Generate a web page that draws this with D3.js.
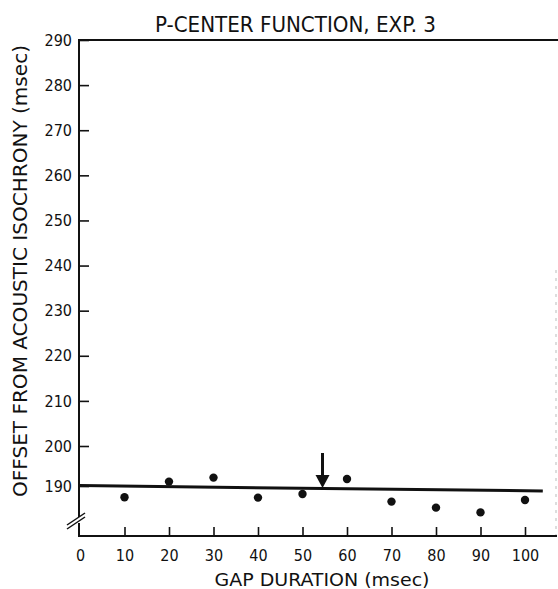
<!DOCTYPE html>
<html><head><meta charset="utf-8">
<script src="https://cdn.jsdelivr.net/npm/d3@7"></script>
<style>
body{margin:0;background:#fff;}
svg{display:block;}
text{font-family:"DejaVu Sans Condensed","DejaVu Sans",sans-serif;fill:#111;}
</style></head>
<body>
<svg id="c" width="558" height="589"></svg>
<script>
const gapDurations = [10, 20, 30, 40, 50, 60, 70, 80, 90, 100];
const offsets = [187.2, 191.1, 192.1, 187.1, 188.0, 191.75, 186.1, 184.6, 183.4, 186.5];
const fitLine = [{x: 0, y: 190.1}, {x: 104, y: 188.75}];
const arrow = {x: 54.5, yTop: 198.25, yTip: 189.5};
const xTicks = [0, 10, 20, 30, 40, 50, 60, 70, 80, 90, 100];
const yTicks = [190, 200, 210, 220, 230, 240, 250, 260, 270, 280, 290];
const title = "P-CENTER FUNCTION, EXP. 3";
const xTitle = "GAP DURATION (msec)";
const yTitle = "OFFSET FROM ACOUSTIC ISOCHRONY (msec)";

const svg = d3.select("#c");
const x = d3.scaleLinear().domain([0, 100]).range([80, 525]);
const y = d3.scaleLinear().domain([190, 200, 290]).range([486, 446, 40]);
const axisX = 79, axisY = 536;
const font = '"DejaVu Sans Condensed","DejaVu Sans",sans-serif';

// Top frame line
svg.append("line").attr("x1", axisX).attr("x2", 558).attr("y1", y(290)).attr("y2", y(290))
  .attr("stroke", "#111").attr("stroke-width", 2);
// faint right edge (scan)
svg.append("line").attr("x1", 556).attr("x2", 556).attr("y1", 270).attr("y2", axisY)
  .attr("stroke", "#bbb").attr("stroke-width", 1).attr("stroke-dasharray", "3,5");

// Y axis
const ya = svg.append("g").attr("transform", `translate(${axisX},0)`)
  .call(d3.axisLeft(y).tickValues(yTicks).tickSizeInner(-10).tickSizeOuter(0).tickPadding(7).tickFormat(d3.format("d")));
ya.select(".domain").remove();
ya.selectAll(".tick line").attr("stroke", "#111").attr("stroke-width", 1.6);
ya.selectAll(".tick text").attr("font-size", 16).attr("fill", "#111").attr("font-family", font);
// Y axis line with break
svg.append("line").attr("x1", axisX).attr("x2", axisX).attr("y1", y(290) - 1).attr("y2", 517)
  .attr("stroke", "#111").attr("stroke-width", 2);
svg.append("line").attr("x1", axisX).attr("x2", axisX).attr("y1", 523).attr("y2", axisY + 1)
  .attr("stroke", "#111").attr("stroke-width", 2);
// break marks
svg.append("line").attr("x1", 67).attr("y1", 525).attr("x2", 85).attr("y2", 513)
  .attr("stroke", "#111").attr("stroke-width", 1.5);
svg.append("line").attr("x1", 67).attr("y1", 529).attr("x2", 85).attr("y2", 517)
  .attr("stroke", "#111").attr("stroke-width", 1.5);

// X axis
const xa = svg.append("g").attr("transform", `translate(0,${axisY})`)
  .call(d3.axisBottom(x).tickValues(xTicks).tickSizeInner(-9).tickSizeOuter(0).tickPadding(14).tickFormat(d3.format("d")));
xa.select(".domain").remove();
xa.selectAll(".tick line").attr("stroke", "#111").attr("stroke-width", 1.6)
  .filter(d => d === 0).remove();
xa.selectAll(".tick text").attr("font-size", 16).attr("fill", "#111").attr("font-family", font);
svg.append("line").attr("x1", axisX - 1).attr("x2", 557).attr("y1", axisY).attr("y2", axisY)
  .attr("stroke", "#111").attr("stroke-width", 2);

// Fit line
svg.append("path").datum(fitLine)
  .attr("d", d3.line().x(d => x(d.x)).y(d => y(d.y)))
  .attr("stroke", "#111").attr("stroke-width", 3).attr("fill", "none");

// Points
svg.append("g").selectAll("circle").data(gapDurations).join("circle")
  .attr("cx", d => x(d)).attr("cy", (d, i) => y(offsets[i])).attr("r", 4.2).attr("fill", "#111");

// Arrow
const ax = x(arrow.x);
svg.append("line").attr("x1", ax).attr("x2", ax).attr("y1", y(arrow.yTop)).attr("y2", y(arrow.yTip) - 10)
  .attr("stroke", "#111").attr("stroke-width", 3);
svg.append("path")
  .attr("d", `M${ax - 7},${y(arrow.yTip) - 13} L${ax + 7},${y(arrow.yTip) - 13} L${ax},${y(arrow.yTip)} Z`)
  .attr("fill", "#111");

// Titles
svg.append("text").attr("x", 295.5).attr("y", 32).attr("text-anchor", "middle")
  .attr("font-size", 22).attr("textLength", 281).attr("lengthAdjust", "spacingAndGlyphs").text(title);
svg.append("text").attr("x", 322).attr("y", 586).attr("text-anchor", "middle")
  .attr("font-size", 18).attr("textLength", 215).attr("lengthAdjust", "spacingAndGlyphs").text(xTitle);
svg.append("text").attr("transform", "translate(27,271) rotate(-90)").attr("text-anchor", "middle")
  .attr("font-size", 20).attr("textLength", 452).attr("lengthAdjust", "spacingAndGlyphs").text(yTitle);
</script>
</body></html>
